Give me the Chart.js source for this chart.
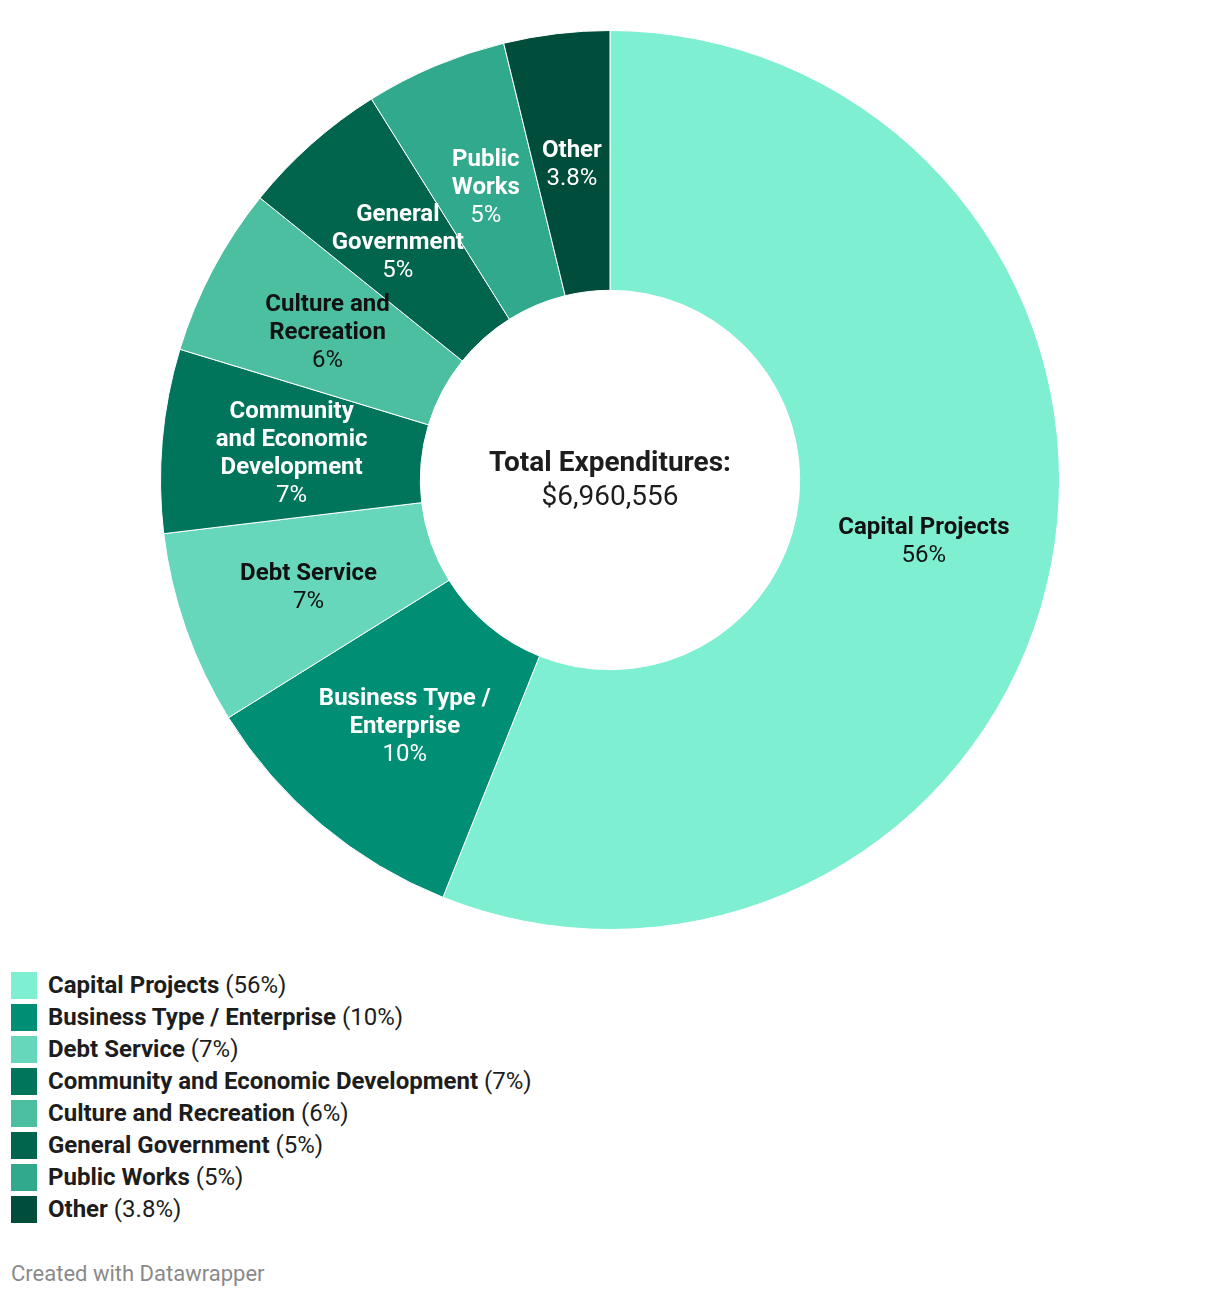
<!DOCTYPE html>
<html>
<head>
<meta charset="utf-8">
<script src="https://cdn.jsdelivr.net/npm/chart.js@4/dist/chart.umd.min.js"></script>
<style>
  html, body { margin: 0; padding: 0; background: #fff; font-family: Roboto, "Noto Sans", sans-serif; color: #1d1d1d; }
  #wrap { position: relative; width: 1220px; height: 960px; }
  #legend { position: absolute; left: 11px; top: 969px; }
  .row { display: flex; align-items: center; height: 32px; font-size: 24px; white-space: nowrap; }
  .sw { width: 26px; height: 27px; margin-right: 11px; }
  .row b { font-weight: 700; margin-right: 6px; }
  #foot { position: absolute; left: 11px; top: 1261px; font-size: 22px; color: #8a8a8a; }
</style>
</head>
<body>
<div id="wrap"><canvas id="c" width="1220" height="960"></canvas></div>
<div id="legend"></div>
<div id="foot">Created with Datawrapper</div>
<script>
const categories = ["Capital Projects", "Business Type / Enterprise", "Debt Service", "Community and Economic Development", "Culture and Recreation", "General Government", "Public Works", "Other"];
const sliceLabelLines = [["Capital Projects"], ["Business Type /", "Enterprise"], ["Debt Service"], ["Community", "and Economic", "Development"], ["Culture and", "Recreation"], ["General", "Government"], ["Public", "Works"], ["Other"]];
const shares = [56.05, 10.07, 6.96, 6.6, 6.1, 5.3, 5.1, 3.8];
const shareLabels = ["56%", "10%", "7%", "7%", "6%", "5%", "5%", "3.8%"];
const colors = ["#7eefd1", "#008f74", "#66d7bb", "#00755c", "#4cbfa1", "#00654c", "#31a98c", "#004d3b"];
const textColors = ["#111", "#fff", "#111", "#fff", "#111", "#fff", "#fff", "#fff"];
const centerTitle = "Total Expenditures:";
const centerValue = "$6,960,556";

const labelPlugin = {
  id: 'sliceLabels',
  afterDatasetsDraw(chart) {
    const ctx = chart.ctx;
    const meta = chart.getDatasetMeta(0);
    ctx.save();
    ctx.textAlign = 'center';
    ctx.textBaseline = 'middle';
    meta.data.forEach((arc, i) => {
      const p = arc.tooltipPosition();
      const lines = sliceLabelLines[i];
      const n = lines.length + 1;
      const lh = 28;
      const y0 = p.y + 2 - (n - 1) * lh / 2;
      ctx.fillStyle = textColors[i];
      ctx.font = 'bold 24px Roboto';
      lines.forEach((t, k) => ctx.fillText(t, p.x, y0 + k * lh));
      ctx.font = '24px Roboto';
      ctx.fillText(shareLabels[i], p.x, y0 + lines.length * lh);
    });
    const a = meta.data[0];
    ctx.fillStyle = '#1d1d1d';
    ctx.font = 'bold 28px Roboto';
    ctx.fillText(centerTitle, a.x, a.y - 16);
    ctx.font = '28px Roboto';
    ctx.fillText(centerValue, a.x, a.y + 18);
    ctx.restore();
  }
};

new Chart(document.getElementById('c'), {
  type: 'doughnut',
  data: {
    labels: categories,
    datasets: [{ data: shares, backgroundColor: colors, borderColor: '#ffffff', borderWidth: 1 }]
  },
  options: {
    responsive: false,
    animation: false,
    cutout: '42.2%',
    layout: { padding: { top: 30, bottom: 30, left: 0, right: 0 } },
    plugins: { legend: { display: false }, tooltip: { enabled: false } }
  },
  plugins: [labelPlugin]
});

const leg = document.getElementById('legend');
categories.forEach((c, i) => {
  const r = document.createElement('div');
  r.className = 'row';
  const s = document.createElement('div');
  s.className = 'sw';
  s.style.background = colors[i];
  const b = document.createElement('b');
  b.textContent = c;
  const t = document.createElement('span');
  t.textContent = '(' + shareLabels[i] + ')';
  r.appendChild(s); r.appendChild(b); r.appendChild(t);
  leg.appendChild(r);
});
</script>
</body>
</html>
